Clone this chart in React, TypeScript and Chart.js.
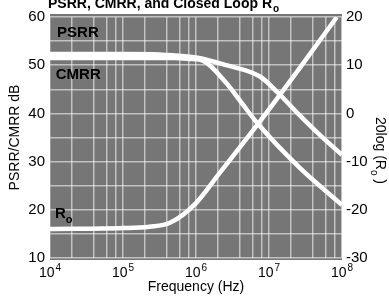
import React, { useEffect, useRef } from 'react';
import { Chart, registerables } from 'chart.js';

Chart.register(...registerables);

const FONT = '"Liberation Sans", "DejaVu Sans", Arial, sans-serif';

// PSRR (left axis, dB)
const psrrFreq = [1e4, 1e5, 3.2e5, 1e6, 2.6e6, 7.6e6, 1.3e7, 2.6e7, 5e7, 1e8];
const psrrDb = [52.3, 52.3, 52.2, 51.6, 50.0, 47.6, 44.4, 39.7, 35.5, 31.4];

// CMRR (left axis, dB)
const cmrrFreq = [1e4, 1e5, 5e5, 8.3e5, 1.26e6, 2.6e6, 4.4e6, 6.9e6, 2.6e7, 1e8];
const cmrrDb = [51.5, 51.5, 51.5, 51.3, 50.9, 46.3, 41.8, 38.0, 28.8, 21.0];

// Closed loop Ro (right axis, 20log(Ro))
const roFreq = [1e4, 1e5, 2.3e5, 4.4e5, 1e6, 2.1e6, 6.9e6, 2.6e7, 8.5e7];
const roDb = [-24, -23.8, -23.5, -22.7, -18.6, -12.4, -2.4, 9.3, 20];

// axes
const xDecades = [1e4, 1e5, 1e6, 1e7, 1e8];
const xTickBase = '10';
const xTickExponents = ['4', '5', '6', '7', '8'];
const xGridMultipliers = [1, 2, 4, 6, 8];
const leftMin = 10, leftMax = 60, leftStep = 5, leftLabelStep = 10;
const rightMin = -30, rightMax = 20, rightStep = 10;

// in-plot labels: [text, subscript, frequency, value, axis]
const curveLabels: [string, string, number, number, string][] = [
  ['PSRR', '', 1.25e4, 56.7, 'y'],
  ['CMRR', '', 1.2e4, 48.0, 'y'],
  ['R', 'o', 1.17e4, -20.9, 'y2'],
];

const titleMain = 'PSRR, CMRR, and Closed Loop R';
const titleSub = 'o';
const rightTitleMain = '20log (R';
const rightTitleSub = 'o';
const rightTitleEnd = ' )';

const PLOT_BG = '#767676';
const GRID = 'rgba(255,255,255,0.55)';

const gridTicks: number[] = [];
xDecades.forEach((d, i) => {
  if (i < xDecades.length - 1) xGridMultipliers.forEach((m) => gridTicks.push(d * m));
  else gridTicks.push(d);
});

const bgPlugin = {
  id: 'bgPlugin',
  beforeDraw(chart: any) {
    const { ctx, chartArea } = chart;
    const { left, top, right, bottom } = chartArea;
    ctx.save();
    ctx.fillStyle = '#ffffff';
    ctx.fillRect(0, 0, chart.width, chart.height);
    ctx.fillStyle = PLOT_BG;
    ctx.fillRect(left, top - 3, right - left, bottom - top + 5);
    ctx.restore();
  },
};

const textPlugin = {
  id: 'textPlugin',
  afterDraw(chart: any) {
    const { ctx, chartArea } = chart;
    const xs = chart.scales.x;
    ctx.save();
    ctx.fillStyle = '#000';
    // curve labels
    curveLabels.forEach(([t, sub, f, v, axis]) => {
      const px = xs.getPixelForValue(f);
      const py = chart.scales[axis].getPixelForValue(v);
      ctx.font = `bold 15px ${FONT}`;
      ctx.textAlign = 'left';
      ctx.textBaseline = 'middle';
      ctx.fillText(t, px, py);
      if (sub) {
        const w = ctx.measureText(t).width;
        ctx.font = `bold 11px ${FONT}`;
        ctx.fillText(sub, px + w, py + 6);
      }
    });
    // x tick labels with superscript exponents
    ctx.textBaseline = 'alphabetic';
    xDecades.forEach((d, i) => {
      const px = xs.getPixelForValue(d);
      ctx.font = `14px ${FONT}`;
      const wb = ctx.measureText(xTickBase).width;
      ctx.font = `10px ${FONT}`;
      const we = ctx.measureText(xTickExponents[i]).width;
      const x0 = px - (wb + we + 1) / 2;
      ctx.font = `14px ${FONT}`;
      ctx.fillText(xTickBase, x0, chartArea.bottom + 19);
      ctx.font = `10px ${FONT}`;
      ctx.fillText(xTickExponents[i], x0 + wb + 1, chartArea.bottom + 13);
    });
    // main title (partially cut at top)
    ctx.font = `bold 14px ${FONT}`;
    ctx.fillText(titleMain, 48, 8);
    const tw = ctx.measureText(titleMain).width;
    ctx.font = `bold 10px ${FONT}`;
    ctx.fillText(titleSub, 48 + tw + 1, 12);
    // right axis title, rotated clockwise
    ctx.translate(376, 117);
    ctx.rotate(Math.PI / 2);
    ctx.font = `14px ${FONT}`;
    ctx.fillText(rightTitleMain, 0, 0);
    const w1 = ctx.measureText(rightTitleMain).width;
    ctx.font = `10px ${FONT}`;
    ctx.fillText(rightTitleSub, w1, 5);
    const w2 = ctx.measureText(rightTitleSub).width;
    ctx.font = `14px ${FONT}`;
    ctx.fillText(rightTitleEnd, w1 + w2, 0);
    ctx.restore();
  },
};

export default function App() {
  const ref = useRef<HTMLCanvasElement | null>(null);

  useEffect(() => {
    if (!ref.current) return;
    Chart.defaults.font.family = FONT;
    const toPts = (fs: number[], vs: number[]) => fs.map((f, i) => ({ x: f, y: vs[i] }));
    const lineStyle = {
      borderColor: '#ffffff',
      borderWidth: 4.5,
      pointRadius: 0,
      fill: false,
      cubicInterpolationMode: 'monotone' as const,
    };
    const chart = new Chart(ref.current, {
      type: 'line',
      data: {
        datasets: [
          { label: 'PSRR', data: toPts(psrrFreq, psrrDb), yAxisID: 'y', ...lineStyle },
          { label: 'CMRR', data: toPts(cmrrFreq, cmrrDb), yAxisID: 'y', ...lineStyle },
          { label: 'Ro', data: toPts(roFreq, roDb), yAxisID: 'y2', ...lineStyle },
        ],
      },
      options: {
        responsive: false,
        animation: false,
        devicePixelRatio: 1,
        layout: { padding: { top: 17, left: 0, right: 0, bottom: 0 } },
        plugins: { legend: { display: false }, tooltip: { enabled: false }, title: { display: false } },
        scales: {
          x: {
            type: 'logarithmic',
            position: 'bottom',
            min: xDecades[0],
            max: xDecades[xDecades.length - 1],
            afterBuildTicks: (s: any) => {
              s.ticks = gridTicks.map((v) => ({ value: v }));
            },
            afterFit: (s: any) => {
              s.height = 47;
            },
            ticks: {
              display: false,
              autoSkip: false,
              maxRotation: 0,
            },
            grid: { color: GRID, lineWidth: 1.5, drawTicks: false },
            border: { display: false },
            title: {
              display: true,
              text: 'Frequency (Hz)',
              color: '#000',
              font: { size: 14, family: FONT },
              padding: { top: 0, bottom: 9 },
            },
          },
          y: {
            type: 'linear',
            position: 'left',
            min: leftMin,
            max: leftMax,
            afterFit: (s: any) => {
              s.width = 50;
            },
            ticks: {
              stepSize: leftStep,
              padding: 5,
              color: '#000',
              font: { size: 15, family: FONT },
              callback: (v: any) => (Number(v) % leftLabelStep === 0 ? String(v) : ''),
            },
            grid: { color: GRID, lineWidth: 1.5, drawTicks: false },
            border: { display: false },
            title: {
              display: true,
              text: 'PSRR/CMRR dB',
              color: '#000',
              font: { size: 14, family: FONT },
              padding: { top: 7, bottom: 0 },
            },
          },
          y2: {
            type: 'linear',
            position: 'right',
            min: rightMin,
            max: rightMax,
            afterFit: (s: any) => {
              s.width = 47;
            },
            ticks: {
              stepSize: rightStep,
              padding: 4,
              color: '#000',
              font: { size: 15, family: FONT },
            },
            grid: { display: false, drawTicks: false },
            border: { display: false },
          },
        },
      },
      plugins: [bgPlugin, textPlugin],
    });
    return () => chart.destroy();
  }, []);

  return (
    <div style={{ position: 'absolute', left: 0, top: 0, width: 389, height: 305 }}>
      <canvas ref={ref} width={389} height={305} />
    </div>
  );
}
